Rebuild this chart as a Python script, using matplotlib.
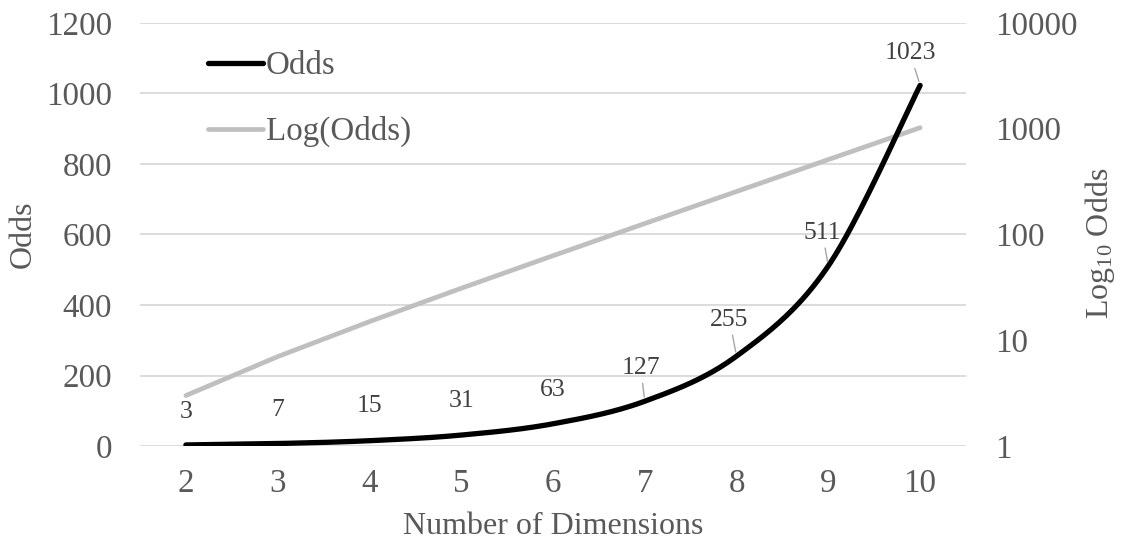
import numpy as np
import matplotlib
matplotlib.use("Agg")
import matplotlib.pyplot as plt
from matplotlib.lines import Line2D

# ---- data ----
dimensions = [2, 3, 4, 5, 6, 7, 8, 9, 10]
odds = [3, 7, 15, 31, 63, 127, 255, 511, 1023]
left_ticks = [0, 200, 400, 600, 800, 1000, 1200]
right_ticks = [1, 10, 100, 1000, 10000]
right_tick_labels = ["1", "10", "100", "1000", "10000"]

# label offsets (pixels) for the data labels
label_dx = [0, 0, 0, 0, 0, -4, -7, -6, -10]
label_dy = [33, 34, 35, 34, 34, 33, 36, 33, 32]

plt.rcParams["font.family"] = ["Liberation Serif", "DejaVu Serif"]
plt.rcParams["mathtext.fontset"] = "custom"
plt.rcParams["mathtext.rm"] = "Liberation Serif"
plt.rcParams["mathtext.it"] = "Liberation Serif:italic"

FS = 23.8
TFS = 23.0
W, H = 1122, 547
fig = plt.figure(figsize=(W / 100, H / 100), dpi=100)
L, R, T, B = 140, 966, 23, 446
ax = fig.add_axes([L / W, 1 - B / H, (R - L) / W, (B - T) / H])
xmin, xmax = 1.5, 10.5
ax.set_xlim(xmin, xmax)
ax.set_ylim(0, 1200)
ax2 = ax.twinx()
ax2.set_yscale("log")
ax2.set_ylim(1, 10000)
ax2.set_xlim(xmin, xmax)

tick_col = "#595959"
for a in (ax, ax2):
    for s in a.spines.values():
        s.set_visible(False)

ax.set_yticks(left_ticks)
ax.set_yticklabels([str(t) for t in left_ticks])
ax.set_xticks(dimensions)
ax.set_xticklabels([str(d) for d in dimensions])
ax.tick_params(axis="y", length=0, pad=20, labelsize=FS, labelcolor=tick_col)
ax.tick_params(axis="x", length=0, pad=16, labelsize=FS, labelcolor=tick_col)
ax.yaxis.grid(True, color="#d9d9d9", lw=1.3)
ax.set_axisbelow(True)

ax2.yaxis.set_major_locator(matplotlib.ticker.FixedLocator(right_ticks))
ax2.yaxis.set_minor_locator(matplotlib.ticker.NullLocator())
ax2.set_yticklabels(right_tick_labels)
ax2.tick_params(axis="y", length=0, pad=21, labelsize=FS, labelcolor=tick_col)

# gray log line (right axis)
ax2.plot(dimensions, odds, color="#bfbfbf", lw=3.4, solid_capstyle="round", zorder=2)

# smoothed black line (left axis) via Catmull-Rom in pixel space
sx = (R - L) / (xmax - xmin)
sy = (B - T) / 1200.0
P = np.column_stack([(np.array(dimensions) - xmin) * sx, np.array(odds) * sy])
pts = []
n = len(P)
for i in range(n - 1):
    p0 = P[i - 1] if i > 0 else P[i]
    p1, p2 = P[i], P[i + 1]
    p3 = P[i + 2] if i + 2 < n else P[i + 1]
    c1 = p1 + (p2 - p0) / 6.0
    c2 = p2 - (p3 - p1) / 6.0
    t = np.linspace(0, 1, 40)[:, None]
    seg = ((1 - t) ** 3) * p1 + 3 * ((1 - t) ** 2) * t * c1 + 3 * (1 - t) * t ** 2 * c2 + t ** 3 * p2
    pts.append(seg if i == 0 else seg[1:])
pts = np.vstack(pts)
sm_x = pts[:, 0] / sx + xmin
sm_y = pts[:, 1] / sy
ax2.plot(sm_x, sm_y, color="black", lw=3.8, solid_capstyle="round",
         transform=ax.transData, zorder=3)
ax2.set_ylim(1, 10000)
ax2.set_xlim(xmin, xmax)

# data labels
for d, v, dx, dy in zip(dimensions, odds, label_dx, label_dy):
    kw = {}
    if dx != 0:
        kw["arrowprops"] = dict(arrowstyle="-", color="#a6a6a6", lw=1.0,
                                shrinkA=1, shrinkB=3)
    ax2.annotate(str(v), xy=(d, v), xycoords=ax.transData,
                 xytext=(dx * 0.72, dy * 0.72), textcoords="offset points",
                 ha="center", va="center", fontsize=18.5, color="#404040",
                 zorder=4, **kw)

# legend
handles = [Line2D([], [], color="black", lw=3.8, solid_capstyle="round"),
           Line2D([], [], color="#bfbfbf", lw=3.4, solid_capstyle="round")]
leg = ax2.legend(handles, ["Odds", "Log(Odds)"], loc="upper left",
                 bbox_to_anchor=(208 / W, 1 - 51 / H), bbox_transform=fig.transFigure,
                 frameon=False, fontsize=FS, handlelength=1.65, handletextpad=0.1,
                 labelspacing=1.05, borderpad=0, borderaxespad=0)
for t in leg.get_texts():
    t.set_color(tick_col)

# axis titles
fig.text(23 / W, 1 - 234 / H, "Odds", rotation=90, ha="center", va="center",
         fontsize=TFS, color=tick_col)
fig.text(1100 / W, 1 - 243 / H, "Log$_{10}$ Odds", rotation=90, ha="center",
         va="center", fontsize=TFS, color=tick_col)
fig.text(553 / W, 1 - 527 / H, "Number of Dimensions", ha="center", va="center",
         fontsize=TFS, color=tick_col)

fig.savefig("out.png", dpi=100)
